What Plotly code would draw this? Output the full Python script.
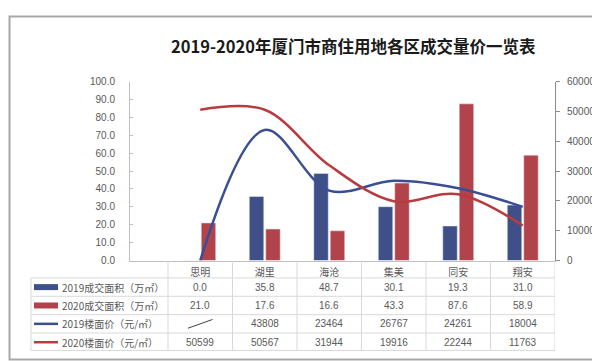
import plotly.graph_objects as go

categories = ["思明", "湖里", "海沧", "集美", "同安", "翔安"]
area_2019 = [0.0, 35.8, 48.7, 30.1, 19.3, 31.0]
area_2020 = [21.0, 17.6, 16.6, 43.3, 87.6, 58.9]
price_2019 = [0, 43808, 23464, 26767, 24261, 18004]
price_2020 = [50599, 50567, 31944, 19916, 22244, 11763]
price_2019_text = ["", "43808", "23464", "26767", "24261", "18004"]

row_labels = ["2019成交面积（万㎡）", "2020成交面积（万㎡）", "2019楼面价（元/㎡）", "2020楼面价（元/㎡）"]
left_ticks = [0, 10, 20, 30, 40, 50, 60, 70, 80, 90, 100]
right_ticks = [0, 10000, 20000, 30000, 40000, 50000, 60000]

BLUE = "#3F5089"
RED = "#B2434A"
BLUE_L = "#3A4E93"
RED_L = "#B83B40"
GRID = "#D9D9D9"
TXT = "#595959"
CJK = "Noto Sans CJK SC"

W, H = 600, 361
def px(x):
    return x / W
def py(y):
    return 1 - y / H

fig = go.Figure()
fig.add_trace(go.Bar(x=categories, y=area_2019, marker_color=BLUE, name=row_labels[0]))
fig.add_trace(go.Bar(x=categories, y=area_2020, marker_color=RED, name=row_labels[1]))
fig.add_trace(go.Scatter(x=categories, y=price_2019, mode="lines", yaxis="y2",
                         line=dict(color=BLUE_L, width=2.5, shape="spline", smoothing=1.0),
                         name=row_labels[2]))
fig.add_trace(go.Scatter(x=categories, y=price_2020, mode="lines", yaxis="y2",
                         line=dict(color=RED_L, width=2.5, shape="spline", smoothing=1.0),
                         name=row_labels[3]))

x0_px, x1_px = 122, 547
top_px, bot_px = 70, 255
sp = (x1_px - 160) / 6.0
c0 = 160 + sp / 2
xr = [(x0_px - c0) / sp, (x1_px - c0) / sp]

fig.update_layout(
    width=W, height=H,
    margin=dict(l=0, r=0, t=0, b=0),
    paper_bgcolor="white", plot_bgcolor="white",
    showlegend=False,
    barmode="group", bargap=0.49, bargroupgap=0.12,
    font=dict(family=CJK, size=10, color=TXT),
    xaxis=dict(domain=[px(x0_px), px(x1_px)], type="category", range=xr,
               showgrid=False, showline=True, linecolor="#BFBFBF", linewidth=1,
               ticks="", tickfont=dict(family=CJK, size=10, color=TXT),
               ticklabelstandoff=2, fixedrange=True),
    yaxis=dict(domain=[py(bot_px), py(top_px)], range=[0, 100], tickvals=left_ticks,
               tickformat=".1f", showgrid=False, showline=True, linecolor="#BFBFBF",
               ticks="inside", ticklen=3, tickcolor="#BFBFBF",
               tickfont=dict(family="Liberation Sans", size=10, color=TXT),
               ticklabelstandoff=12, zeroline=False),
    yaxis2=dict(overlaying="y", side="right", range=[0, 60000], tickvals=right_ticks,
                tickformat="d",
                showgrid=False, showline=True, linecolor="#8C8C8C", linewidth=1,
                ticks="outside", ticklen=4, tickcolor="#8C8C8C",
                tickfont=dict(family="Liberation Sans", size=10, color=TXT),
                ticklabelstandoff=5, zeroline=False),
)

shapes = []
annotations = []

shapes.append(dict(type="rect", xref="paper", yref="paper", x0=px(1.5), x1=px(593.5),
                   y0=py(357.5), y1=py(2.5), line=dict(color="#A8A8A8", width=2)))

annotations.append(dict(xref="paper", yref="paper", x=px(345), y=py(33), showarrow=False,
                        text="<b>2019-2020年厦门市商住用地各区成交量价一览表</b>",
                        font=dict(family=CJK, size=16.5, color="#1A1A1A"),
                        xanchor="center", yanchor="middle"))

row_lines = [273, 292, 311, 330, 348]
for yl in row_lines:
    shapes.append(dict(type="line", xref="paper", yref="paper", x0=px(23), x1=px(x1_px),
                       y0=py(yl), y1=py(yl), line=dict(color=GRID, width=1)))
shapes.append(dict(type="line", xref="paper", yref="paper", x0=px(23), x1=px(23),
                   y0=py(273), y1=py(348), line=dict(color=GRID, width=1)))
for i in range(len(categories) + 1):
    shapes.append(dict(type="line", xref="x", yref="paper", x0=i - 0.5, x1=i - 0.5,
                       y0=py(bot_px), y1=py(348), line=dict(color=GRID, width=1)))

row_centres = [282.5, 301.5, 320.5, 339.5]
row_values = [
    ["%.1f" % v for v in area_2019],
    ["%.1f" % v for v in area_2020],
    price_2019_text,
    ["%d" % v for v in price_2020],
]
sym_colors = [BLUE, RED, BLUE_L, RED_L]
sym_widths = [6, 6, 2.5, 2.5]
for r, yc in enumerate(row_centres):
    shapes.append(dict(type="line", xref="paper", yref="paper", x0=px(26), x1=px(50),
                       y0=py(yc), y1=py(yc), line=dict(color=sym_colors[r], width=sym_widths[r])))
    annotations.append(dict(xref="paper", yref="paper", x=px(52), y=py(yc), showarrow=False,
                            text=row_labels[r], xanchor="left", yanchor="middle",
                            font=dict(family=CJK, size=10, color=TXT)))
    for i, cat in enumerate(categories):
        if row_values[r][i]:
            annotations.append(dict(xref="x", yref="paper", x=cat, y=py(yc), showarrow=False,
                                    text=row_values[r][i], xanchor="center", yanchor="middle",
                                    font=dict(family="Liberation Sans", size=10, color=TXT)))
        else:
            shapes.append(dict(type="line", xref="x", yref="paper", x0=i - 0.19, x1=i + 0.19,
                               y0=py(yc + 4.5), y1=py(yc - 4.5),
                               line=dict(color="#404040", width=1)))

fig.update_layout(shapes=shapes, annotations=annotations)
fig.write_html("out.html")
